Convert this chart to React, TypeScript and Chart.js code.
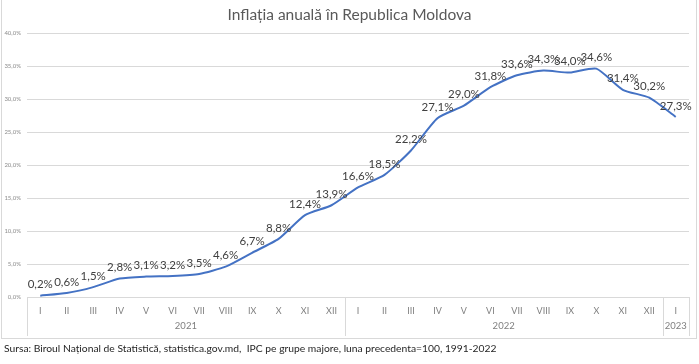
import React, { useEffect, useRef } from "react";
import { Chart, registerables } from "chart.js";

Chart.register(...registerables);

const TITLE = "Inflația anuală în Republica Moldova";
const FOOTER =
  "Sursa: Biroul Național de Statistică, statistica.gov.md,  IPC pe grupe majore, luna precedenta=100, 1991-2022";

const months = [
  "I", "II", "III", "IV", "V", "VI", "VII", "VIII", "IX", "X", "XI", "XII",
  "I", "II", "III", "IV", "V", "VI", "VII", "VIII", "IX", "X", "XI", "XII",
  "I",
];
const years = ["2021", "2022", "2023"];
const yearCounts = [12, 12, 1];
const inflation = [
  0.2, 0.6, 1.5, 2.8, 3.1, 3.2, 3.5, 4.6, 6.7, 8.8, 12.4, 13.9,
  16.6, 18.5, 22.2, 27.1, 29.0, 31.8, 33.6, 34.3, 34.0, 34.6, 31.4, 30.2,
  27.3,
];
const yTicks = [0, 5, 10, 15, 20, 25, 30, 35, 40];

const FONT = "Lato, 'Open Sans', sans-serif";
const fmt = (v: number) => v.toFixed(1).replace(".", ",") + "%";

const decorPlugin = {
  id: "decor",
  afterDraw(chart: any) {
    const ctx = chart.ctx as CanvasRenderingContext2D;
    const area = chart.chartArea;
    const xs = chart.scales.x;
    const W = chart.width;
    ctx.save();
    // outer border
    ctx.strokeStyle = "#d9d9d9";
    ctx.lineWidth = 1;
    ctx.strokeRect(1.5, -1.5, W - 4, 340);
    // title
    ctx.fillStyle = "#595959";
    ctx.font = `15.5px ${FONT}`;
    ctx.textAlign = "center";
    ctx.textBaseline = "middle";
    ctx.fillText(TITLE, W / 2, 15);
    // year groups
    const step = (area.right - area.left) / months.length;
    let start = 0;
    ctx.strokeStyle = "#d9d9d9";
    const sepTop = area.bottom;
    const sepBottom = 336;
    const drawSep = (x: number) => {
      ctx.beginPath();
      ctx.moveTo(Math.round(x) + 0.5, sepTop);
      ctx.lineTo(Math.round(x) + 0.5, sepBottom);
      ctx.stroke();
    };
    drawSep(area.left);
    ctx.font = `9.5px ${FONT}`;
    ctx.fillStyle = "#7f7f7f";
    years.forEach((y, i) => {
      const n = yearCounts[i];
      const x0 = xs.getPixelForValue(start) - step / 2;
      const x1 = xs.getPixelForValue(start + n - 1) + step / 2;
      ctx.fillText(y, (x0 + x1) / 2, 326);
      drawSep(x1);
      start += n;
    });
    // footer
    ctx.textAlign = "left";
    ctx.fillStyle = "#262626";
    ctx.font = `10.3px ${FONT}`;
    ctx.fillText(FOOTER, 4, 349);
    ctx.restore();
  },
  afterDatasetsDraw(chart: any) {
    const ctx = chart.ctx as CanvasRenderingContext2D;
    const meta = chart.getDatasetMeta(0);
    ctx.save();
    ctx.fillStyle = "#404040";
    ctx.font = `11.5px ${FONT}`;
    ctx.textAlign = "center";
    ctx.textBaseline = "middle";
    meta.data.forEach((pt: any, i: number) => {
      ctx.fillText(fmt(inflation[i]), pt.x, pt.y - 11);
    });
    ctx.restore();
  },
};

export default function App() {
  const ref = useRef<HTMLCanvasElement | null>(null);
  useEffect(() => {
    document.body.style.margin = "0";
    const canvas = ref.current!;
    const chart = new Chart(canvas, {
      type: "line",
      data: {
        labels: months,
        datasets: [
          {
            data: inflation,
            borderColor: "#4472C4",
            borderWidth: 2,
            pointRadius: 0,
            tension: 0.2,
            fill: false,
          },
        ],
      },
      options: {
        responsive: false,
        animation: false,
        layout: { padding: { top: 33, right: 10, left: 0, bottom: 0 } },
        plugins: {
          legend: { display: false },
          tooltip: { enabled: false },
          title: { display: false },
        },
        scales: {
          x: {
            type: "category",
            offset: true,
            grid: { display: false, drawTicks: false },
            border: { display: false },
            ticks: {
              autoSkip: false,
              maxRotation: 0,
              padding: 9,
              color: "#7f7f7f",
              font: { family: FONT, size: 9 },
            },
            afterFit: (s: any) => {
              s.height = 67;
            },
          },
          y: {
            min: 0,
            max: 40,
            afterBuildTicks: (s: any) => {
              s.ticks = yTicks.map((v) => ({ value: v }));
            },
            grid: { color: "#d9d9d9", drawTicks: false, lineWidth: 1 },
            border: { display: false },
            ticks: {
              padding: 6,
              color: "#8c8c8c",
              font: { family: FONT, size: 6 },
              callback: (v: any) => fmt(Number(v)),
            },
            afterFit: (s: any) => {
              s.width = 27;
            },
          },
        },
      },
      plugins: [decorPlugin],
    });
    return () => chart.destroy();
  }, []);
  return <canvas ref={ref} width={699} height={364} style={{ display: "block" }} />;
}
